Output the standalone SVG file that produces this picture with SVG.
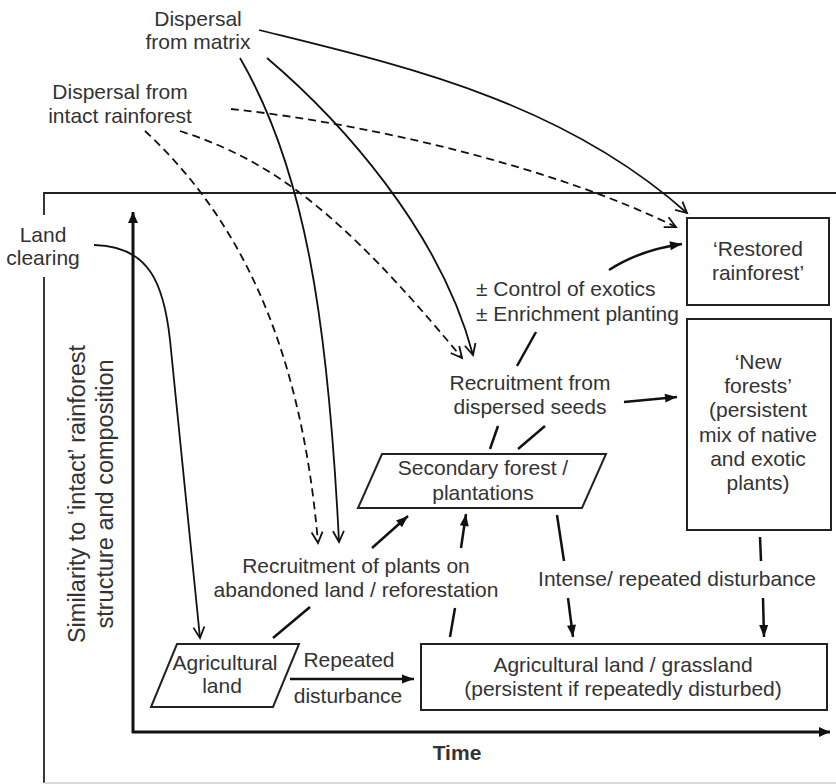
<svg xmlns="http://www.w3.org/2000/svg" width="836" height="784" viewBox="0 0 836 784">
<style>
text{font-family:"Liberation Sans",Arial,sans-serif;font-size:21px;fill:#333;}
.c{text-anchor:middle;}
.yl{font-size:23.5px;}
.box{fill:none;stroke:#222;stroke-width:2;}
.ln{fill:none;stroke:#111;stroke-width:1.8;}
.dash{stroke-dasharray:8 5;}
.sh{fill:none;stroke:#111;stroke-width:2.5;}
.ax{fill:none;stroke:#111;stroke-width:3;}
</style>
<defs>
<marker id="open" markerUnits="userSpaceOnUse" viewBox="-14 -8 16 16" markerWidth="16" markerHeight="16" refX="0" refY="0" orient="auto" overflow="visible">
<path d="M-11,-5.5 L0,0 L-11,5.5" fill="none" stroke="#111" stroke-width="1.8"/>
</marker>
<marker id="fill" markerUnits="userSpaceOnUse" viewBox="-14 -8 16 16" markerWidth="16" markerHeight="16" refX="0" refY="0" orient="auto" overflow="visible">
<path d="M-12,-4.5 L0,0 L-12,4.5 Z" fill="#111"/>
</marker>
<marker id="axm" markerUnits="userSpaceOnUse" viewBox="-14 -8 16 16" markerWidth="16" markerHeight="16" refX="0" refY="0" orient="auto" overflow="visible">
<path d="M-11,-5 L0,0 L-11,5 Z" fill="#111"/>
</marker>
</defs>
<rect width="836" height="784" fill="#fff"/>

<g id="frame">
<path d="M44,215 L44,193 L836,193" fill="none" stroke="#222" stroke-width="1.8"/>
<path d="M44,277 L44,783" fill="none" stroke="#222" stroke-width="1.8"/>
<path d="M44,783 L836,783" fill="none" stroke="#ccc" stroke-width="1.5"/>
</g>

<g id="axes">
<path class="ax" d="M133,733 L133,212" marker-end="url(#axm)"/>
<path class="ax" d="M132,732 L830,732" marker-end="url(#axm)"/>
<text class="c" style="font-weight:bold" x="457" y="760">Time</text>
<g transform="translate(85,494) rotate(-90)">
<text class="c yl" x="0" y="0">Similarity to ‘intact’ rainforest</text>
<text class="c yl" x="0" y="28">structure and composition</text>
</g>
</g>

<g id="dispersal-matrix">
<text class="c" x="198" y="26">Dispersal</text>
<text class="c" x="198" y="49">from matrix</text>
</g>
<g id="dispersal-intact">
<text class="c" x="120" y="99">Dispersal from</text>
<text class="c" x="120" y="123">intact rainforest</text>
</g>
<g id="land-clearing">
<text class="c" x="43" y="242">Land</text>
<text class="c" x="43" y="265">clearing</text>
</g>
<g id="control">
<text x="476" y="296">± Control of exotics</text>
<text x="476" y="321">± Enrichment planting</text>
</g>
<g id="restored">
<rect class="box" x="687" y="218" width="142" height="87"/>
<text class="c" x="758" y="256">‘Restored</text>
<text class="c" x="758" y="280">rainforest’</text>
</g>
<g id="new-forests">
<rect class="box" x="687" y="319" width="144" height="211"/>
<text class="c" x="758" y="369">‘New</text>
<text class="c" x="758" y="393">forests’</text>
<text class="c" x="758" y="417">(persistent</text>
<text class="c" x="758" y="442">mix of native</text>
<text class="c" x="758" y="466">and exotic</text>
<text class="c" x="758" y="490">plants)</text>
</g>
<g id="recruit-seeds">
<text class="c" x="530" y="390">Recruitment from</text>
<text class="c" x="530" y="414">dispersed seeds</text>
</g>
<g id="secondary">
<polygon class="box" points="382,454 606,454 582,508 358,508"/>
<text class="c" x="483" y="475">Secondary forest /</text>
<text class="c" x="483" y="500">plantations</text>
</g>
<g id="recruit-abandoned">
<text class="c" x="356" y="573">Recruitment of plants on</text>
<text class="c" x="356" y="597">abandoned land / reforestation</text>
</g>
<g id="agri">
<polygon class="box" points="177,644 299,644 273,707 151,707"/>
<text class="c" x="225" y="670">Agricultural</text>
<text class="c" x="222" y="693">land</text>
</g>
<g id="repeated">
<text class="c" x="349" y="667">Repeated</text>
<text class="c" x="348" y="703">disturbance</text>
</g>
<g id="grassland">
<rect class="box" x="421" y="644" width="406" height="66"/>
<text class="c" x="623" y="672">Agricultural land / grassland</text>
<text class="c" x="623" y="696">(persistent if repeatedly disturbed)</text>
</g>
<g id="intense">
<text class="c" x="677" y="586">Intense/ repeated disturbance</text>
</g>

<g id="connectors">
<path class="ln" d="M259,30 C400,65 560,100 687,213" marker-end="url(#open)"/>
<path class="ln dash" d="M231,109 C380,125 560,170 676,227" marker-end="url(#open)"/>
<path class="ln" d="M240,58 C305,170 328,320 339,542" marker-end="url(#open)"/>
<path class="ln" d="M267,58 C340,120 440,230 473,355" marker-end="url(#open)"/>
<path class="ln dash" d="M180,131 C270,160 340,210 462,358" marker-end="url(#open)"/>
<path class="ln dash" d="M145,131 C230,210 300,330 318,543" marker-end="url(#open)"/>
<path class="ln" d="M94,245 C150,246 164,285 170,340 L200,638" marker-end="url(#open)"/>
<path class="sh" d="M273,638 L310,607"/>
<path class="sh" d="M372,548 L408,516" marker-end="url(#fill)"/>
<path class="sh" d="M450,637 L455,608"/>
<path class="sh" d="M461,548 L466,514" marker-end="url(#fill)"/>
<path class="sh" d="M557,515 L564,561"/>
<path class="sh" d="M568,598 L573,637" marker-end="url(#fill)"/>
<path class="sh" d="M760,537 L761,561"/>
<path class="sh" d="M763,598 L764,637" marker-end="url(#fill)"/>
<path class="sh" d="M490,449 L498,426"/>
<path class="sh" d="M518,449 L545,426"/>
<path class="sh" d="M624,402 L677,397" marker-end="url(#fill)"/>
<path class="sh" d="M517,366 L536,332"/>
<path class="sh" d="M609,270 Q640,250 682,244" marker-end="url(#fill)"/>
<path class="sh" d="M290,679 L414,679" marker-end="url(#fill)"/>
</g>
</svg>
